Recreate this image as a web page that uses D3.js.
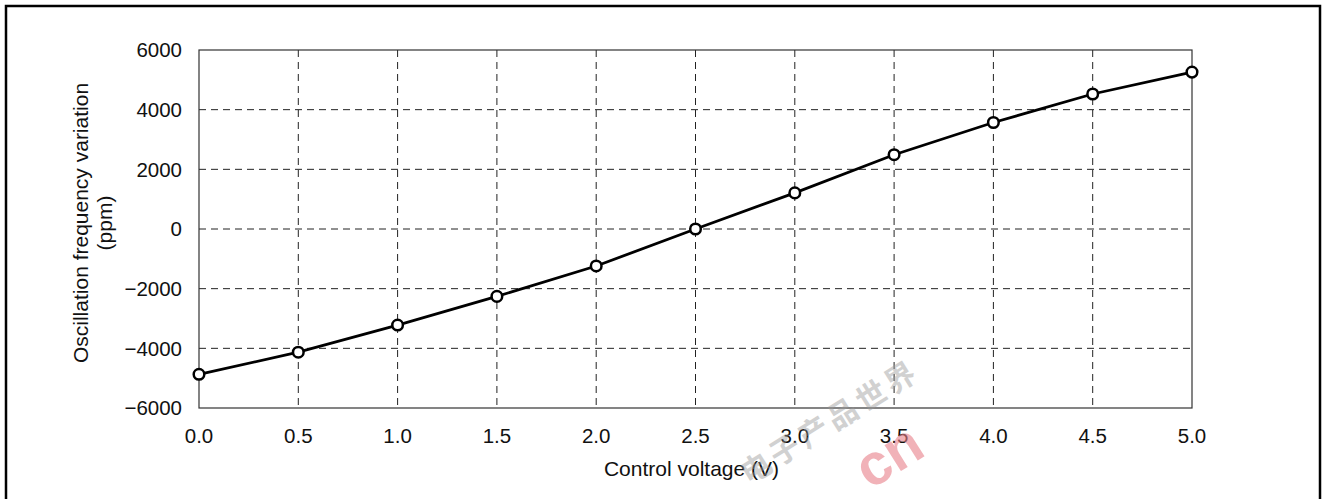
<!DOCTYPE html>
<html>
<head>
<meta charset="utf-8">
<script src="https://cdn.jsdelivr.net/npm/d3@7"></script>
<style>
	body { margin: 0; background: #fff; }
	svg { display: block; font-family: "Liberation Sans", Arial, sans-serif; }
	.gridline { stroke: #222; stroke-width: 1; stroke-dasharray: 7,5; fill: none; }
	.frame { stroke: #333; stroke-width: 1.2; fill: none; }
	.line { stroke: #000; stroke-width: 2.8; fill: none; }
	.point { stroke: #000; stroke-width: 2.5; fill: #fff; }
	.tick-label { font-size: 20.5px; fill: #111; }
	.axis-title { font-size: 21px; fill: #111; }
</style>
</head>
<body>
<svg id="chart"></svg>
<script>
// dati
var voltage = [0.0, 0.5, 1.0, 1.5, 2.0, 2.5, 3.0, 3.5, 4.0, 4.5, 5.0];
var freq_ppm = [-4870, -4130, -3220, -2260, -1240, 0, 1210, 2490, 3570, 4525, 5260];
var x_ticks = [0.0, 0.5, 1.0, 1.5, 2.0, 2.5, 3.0, 3.5, 4.0, 4.5, 5.0];
var y_ticks = [-6000, -4000, -2000, 0, 2000, 4000, 6000];
var x_title = 'Control voltage (V)';
var y_title = ['Oscillation frequency variation', '(ppm)'];

var W = 1324, H = 499;
var plot = {left: 199, right: 1192, top: 50, bottom: 408};

var svg = d3.select('#chart')
	.attr('width', W)
	.attr('height', H);

// cornice esterna
svg.append('rect')
	.attr('x', 6)
	.attr('y', 6)
	.attr('width', 1314)
	.attr('height', 520)
	.attr('fill', 'none')
	.attr('stroke', '#000')
	.attr('stroke-width', 2.5);

var x_conv = d3.scaleLinear().domain([0, 5]).range([plot.left, plot.right]);
var y_conv = d3.scaleLinear().domain([-6000, 6000]).range([plot.bottom, plot.top]);

// griglia
svg.selectAll('line.vgrid')
	.data(x_ticks.filter(function(d) { return d > 0 && d < 5; }))
	.enter().append('line')
	.attr('class', 'gridline')
	.attr('x1', function(d) { return x_conv(d); })
	.attr('x2', function(d) { return x_conv(d); })
	.attr('y1', plot.top)
	.attr('y2', plot.bottom);

svg.selectAll('line.hgrid')
	.data(y_ticks.filter(function(d) { return d > -6000 && d < 6000; }))
	.enter().append('line')
	.attr('class', 'gridline')
	.attr('x1', plot.left)
	.attr('x2', plot.right)
	.attr('y1', function(d) { return y_conv(d); })
	.attr('y2', function(d) { return y_conv(d); });

svg.append('rect')
	.attr('class', 'frame')
	.attr('x', plot.left)
	.attr('y', plot.top)
	.attr('width', plot.right - plot.left)
	.attr('height', plot.bottom - plot.top);

// etichette assi
svg.selectAll('text.ylab')
	.data(y_ticks).enter()
	.append('text')
	.attr('class', 'tick-label')
	.attr('x', 182)
	.attr('y', function(d) { return y_conv(d); })
	.attr('dy', '0.36em')
	.attr('text-anchor', 'end')
	.text(function(d) { return d < 0 ? '\u2212' + Math.abs(d) : d; });

svg.selectAll('text.xlab')
	.data(x_ticks).enter()
	.append('text')
	.attr('class', 'tick-label')
	.attr('x', function(d) { return x_conv(d); })
	.attr('y', 443)
	.attr('text-anchor', 'middle')
	.text(function(d) { return d3.format('.1f')(d); });

svg.append('text')
	.attr('class', 'axis-title')
	.attr('x', (plot.left + plot.right) / 2 - 4)
	.attr('y', 476)
	.attr('text-anchor', 'middle')
	.text(x_title);

y_title.forEach(function(t, i) {
	svg.append('text')
		.attr('class', 'axis-title')
		.attr('transform', 'translate(' + (88 + i * 24) + ',223) rotate(-90)')
		.attr('text-anchor', 'middle')
		.text(t);
});

// curva
var line = d3.line()
	.x(function(d, i) { return x_conv(voltage[i]); })
	.y(function(d) { return y_conv(d); });

svg.append('path')
	.datum(freq_ppm)
	.attr('class', 'line')
	.attr('d', line);

svg.selectAll('circle.point')
	.data(freq_ppm).enter()
	.append('circle')
	.attr('class', 'point')
	.attr('cx', function(d, i) { return x_conv(voltage[i]); })
	.attr('cy', function(d) { return y_conv(d); })
	.attr('r', 5.3);

// filigrana
var wm = svg.append('g');
wm.append('text')
	.attr('transform', 'translate(915,366) rotate(-32)')
	.attr('text-anchor', 'end')
	.attr('dominant-baseline', 'central')
	.attr('font-family', '"Noto Sans CJK SC"')
	.attr('font-weight', 'bold')
	.attr('font-size', 30)
	.attr('letter-spacing', 4)
	.attr('fill', '#9a9a9a')
	.attr('opacity', 0.45)
	.text('电子产品世界');
wm.append('text')
	.attr('transform', 'translate(888,455) rotate(-32)')
	.attr('text-anchor', 'middle')
	.attr('dominant-baseline', 'central')
	.attr('font-family', '"Liberation Sans", Arial, sans-serif')
	.attr('font-weight', 'bold')
	.attr('font-size', 58)
	.attr('fill', '#e8808a')
	.attr('opacity', 0.6)
	.text('cn');
</script>
</body>
</html>
